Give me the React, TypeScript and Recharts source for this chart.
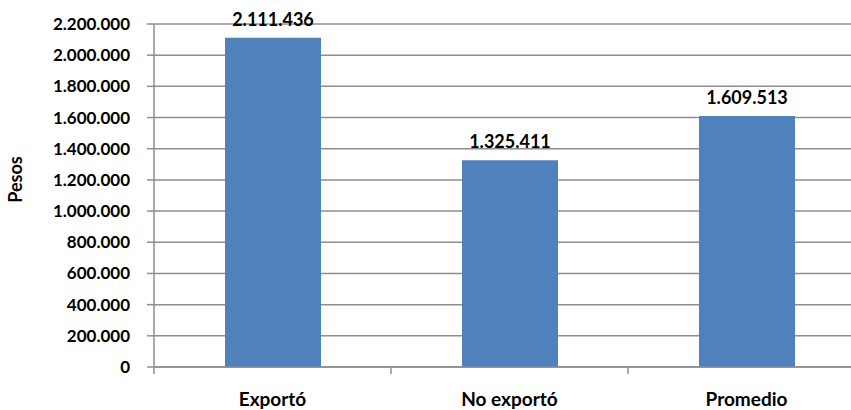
import { BarChart, Bar, XAxis, YAxis, CartesianGrid, LabelList } from 'recharts';

const categories = ['Exportó', 'No exportó', 'Promedio'];
const pesos = [2111436, 1325411, 1609513];
const yTicks = [0, 200000, 400000, 600000, 800000, 1000000, 1200000, 1400000, 1600000, 1800000, 2000000, 2200000];

const data = categories.map((name, i) => ({ name, value: pesos[i] }));

const FONT = 'Lato, "Open Sans", sans-serif';
const GRID = '#8e8e8e';

// thousands with dots, like the original (es-CL)
const fmt = (v: number) => String(Math.round(v)).replace(/\B(?=(\d{3})+(?!\d))/g, '.');

const CHART_W = 870;
const CHART_H = 410;
const MARGIN = { top: 24, right: 5, bottom: 0, left: 0 };
const Y_W = 154;
const bandHalf = (CHART_W - MARGIN.left - MARGIN.right - Y_W) / categories.length / 2;

// category label plus tick marks on the band edges (Excel style)
const CategoryTick = (props: any) => {
    const { x, y, payload, index } = props;
    return (
        <g>
            <line x1={x - bandHalf} x2={x - bandHalf} y1={y - 8} y2={y - 1} stroke={GRID} strokeWidth={1.5} />
            {index === categories.length - 1 && (
                <line x1={x + bandHalf} x2={x + bandHalf} y1={y - 8} y2={y - 1} stroke={GRID} strokeWidth={1.5} />
            )}
            <text x={x} y={y} dy={31} textAnchor="middle" fontFamily={FONT} fontWeight={700} fontSize={19} fill="#000">
                {payload.value}
            </text>
        </g>
    );
};

export default function App() {
    return (
        <div style={{ position: 'fixed', left: 0, top: 0, width: 851, height: 410, overflow: 'hidden', background: '#fff' }}>
            <BarChart width={CHART_W} height={CHART_H} data={data} margin={MARGIN}>
                <CartesianGrid vertical={false} stroke={GRID} strokeWidth={1.5} />
                <XAxis
                    dataKey="name"
                    height={43}
                    axisLine={{ stroke: GRID, strokeWidth: 1.5 }}
                    tickLine={false}
                    tick={<CategoryTick />}
                    interval={0}
                />
                <YAxis
                    width={Y_W}
                    domain={[0, 2200000]}
                    ticks={yTicks}
                    interval={0}
                    tickFormatter={fmt}
                    tickSize={7}
                    tickMargin={17}
                    axisLine={{ stroke: GRID, strokeWidth: 1.5 }}
                    tickLine={{ stroke: GRID, strokeWidth: 1.5 }}
                    tick={{ fontFamily: FONT, fontWeight: 700, fontSize: 17, fill: '#000' }}
                    label={{
                        value: 'Pesos',
                        angle: -90,
                        position: 'insideLeft',
                        offset: 16,
                        dy: -16,
                        style: { fontFamily: FONT, fontWeight: 700, fontSize: 18, fill: '#000', textAnchor: 'middle' },
                    }}
                />
                <Bar dataKey="value" fill="#4F81BD" barSize={96} isAnimationActive={false}>
                    <LabelList
                        dataKey="value"
                        position="top"
                        offset={12}
                        formatter={(v: any) => fmt(Number(v))}
                        style={{ fontFamily: FONT, fontWeight: 700, fontSize: 18, fill: '#000' }}
                    />
                </Bar>
            </BarChart>
        </div>
    );
}
